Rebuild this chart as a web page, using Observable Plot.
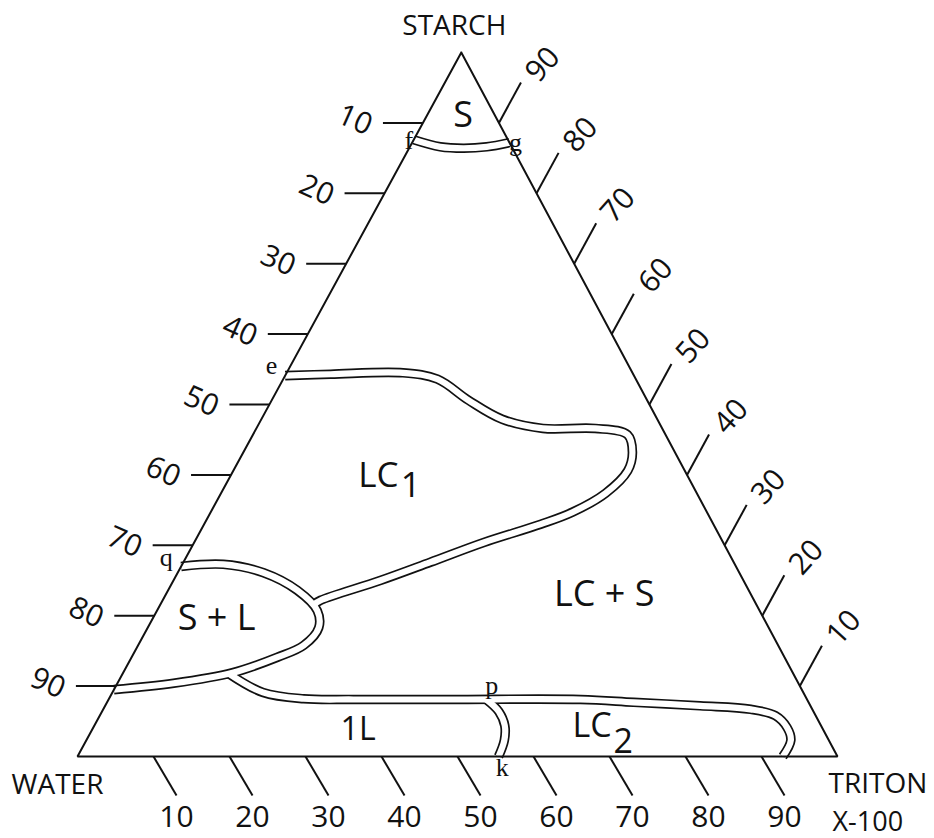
<!DOCTYPE html>
<html>
<head>
<meta charset="utf-8">
<script src="https://cdn.jsdelivr.net/npm/d3@7"></script>
<script src="https://cdn.jsdelivr.net/npm/@observablehq/plot@0.6"></script>
<style>
  html, body { margin: 0; padding: 0; background: #fff; }
</style>
</head>
<body>
<div id="chart"></div>
<script>
// ---- Ternary phase diagram: Starch / Water / Triton X-100 ----
// Every boundary point is [Triton X-100 %, Starch %]; Water = 100 - Triton - Starch.
const boundaryFG  = [[0, 87.6], [4.0, 86.6], [7.2, 86.4], [10.1, 86.6], [12.8, 87.2]];
const boundaryLC1 = [[0, 54.1], [5.9, 54.3], [15.3, 54.5], [20.3, 53.6], [25.9, 50.6], [31.7, 47.9],
                     [37.7, 46.6], [44.6, 46.6], [49.3, 45.7], [51.2, 43.2], [51.9, 40.6], [50.6, 37.4],
                     [47.6, 34.7], [44.3, 33.0], [38.1, 30.4], [32.5, 27.6], [27.2, 25.0], [20.8, 22.2], [20.2, 21.6]];
const boundarySL  = [[0, 27.0], [5.4, 27.3], [11.3, 26.1], [17.0, 23.6], [21.1, 20.7], [22.5, 18.3],
                     [21.8, 15.8], [19.2, 14.1], [14.4, 11.9], [7.4, 10.4], [0, 9.5]];
const boundaryLC2 = [[13.9, 11.8], [19.8, 9.1], [25.6, 8.2], [32.2, 8.1], [45.0, 8.1], [62.1, 8.1],
                     [69.3, 7.7], [78.3, 7.2], [85.2, 6.7], [88.9, 5.8], [91.3, 4.1], [92.7, 2.3], [92.8, 0]];
const boundaryPK  = [[49.7, 8.1], [52.2, 6.4], [54.0, 4.4], [55.0, 2.3], [55.4, 0]];

const tickValues = [10, 20, 30, 40, 50, 60, 70, 80, 90];

// Region names: [text, Triton %, Starch %, font size, anchor]
const regionLabels = [
  ["S", 4.8, 91.0, 36, "middle"],
  ["LC", 22.1, 39.9, 35, "end"],
  ["1", 23.1, 38.5, 35, "start"],
  ["LC + S", 57.7, 23.0, 36, "middle"],
  ["S + L", 8.4, 19.6, 36, "middle"],
  ["1L", 35.0, 3.8, 32, "middle"],
  ["LC", 68.1, 4.3, 34, "end"],
  ["2", 69.5, 2.0, 34, "start"]
];
// Point letters: [text, Triton %, Starch %]
const pointLabels = [
  ["f", -0.6, 87.5], ["g", 13.6, 87.2], ["e", -2.5, 55.5],
  ["q", -2.6, 28.3], ["p", 49.4, 10.1], ["k", 56.7, -1.6]
];
// Corner names: [text, Triton %, Starch %]
const cornerLabels = [["STARCH", 0, 100], ["WATER", 0, 0], ["TRITON", 100, 0], ["X-100", 100, 0]];

// ---- projection (triangle drawn as in the source: apex slightly right of centre) ----
const K = 0.505;
const proj = (t, s) => ({x: t / 100 + K * s / 100, y: s / 100});

const boundaries = [];
[["fg", boundaryFG], ["lc1", boundaryLC1], ["sl", boundarySL], ["lc2", boundaryLC2], ["pk", boundaryPK]]
  .forEach(([name, pts]) => pts.forEach(([t, s]) => boundaries.push({curve: name, ...proj(t, s)})));

const outline = [[0, 100], [0, 0], [100, 0], [0, 100]].map(([t, s]) => proj(t, s));

// tick segments (left: water scale, right: starch scale, bottom: triton scale)
const leftTicks = tickValues.map(v => {
  const p = proj(0, 100 - v);
  return {v, x1: p.x, y1: p.y, x2: p.x - 0.0526, y2: p.y};
});
const rightTicks = tickValues.map(v => {
  const p = proj(100 - v, v);
  return {v, x1: p.x, y1: p.y, x2: p.x + 0.0290, y2: p.y + 0.0574};
});
const bottomTicks = tickValues.map(v => {
  const p = proj(v, 0);
  return {v, x1: p.x, y1: p.y, x2: p.x + 0.0303, y2: p.y - 0.0554};
});

const regions = regionLabels.map(([text, t, s, size, anchor]) => ({text, size, anchor, ...proj(t, s)}));
const points = pointLabels.map(([text, t, s]) => ({text, ...proj(t, s)}));
const corners = cornerLabels.map(([text, t, s]) => ({text, ...proj(t, s)}));

const sans = "'Open Sans', Lato, 'DejaVu Sans', sans-serif";
const serif = "'Liberation Serif', 'DejaVu Serif', serif";
const ink = "#111";

const regionMarks = ["middle", "start", "end"].map(a =>
  Plot.text(regions.filter(d => d.anchor === a), {x: "x", y: "y", text: "text", textAnchor: a, fontSize: d => d.size, fill: ink})
);

const chart = Plot.plot({
  width: 934,
  height: 838,
  margin: 0,
  x: {domain: [0, 1], range: [77, 837], axis: null},
  y: {domain: [0, 1], range: [756, 52], axis: null},
  style: {background: "#fff", fontFamily: sans, color: ink},
  marks: [
    // double-line phase boundaries: a wide dark stroke, then a narrower white stroke
    Plot.line(boundaries, {x: "x", y: "y", z: "curve", curve: "catmull-rom", stroke: ink, strokeWidth: 9.6, strokeLinecap: "butt"}),
    Plot.line(boundaries, {x: "x", y: "y", z: "curve", curve: "catmull-rom", stroke: "#fff", strokeWidth: 6.2, strokeLinecap: "butt"}),
    // triangle
    Plot.line(outline, {x: "x", y: "y", stroke: ink, strokeWidth: 2, strokeLinejoin: "miter"}),
    // ticks
    Plot.link(leftTicks, {x1: "x1", y1: "y1", x2: "x2", y2: "y2", stroke: ink, strokeWidth: 2}),
    Plot.link(rightTicks, {x1: "x1", y1: "y1", x2: "x2", y2: "y2", stroke: ink, strokeWidth: 2}),
    Plot.link(bottomTicks, {x1: "x1", y1: "y1", x2: "x2", y2: "y2", stroke: ink, strokeWidth: 2}),
    // tick labels
    Plot.text(leftTicks, {x: "x2", y: "y2", text: d => String(d.v), dx: -28, dy: -3, rotate: 24, fontSize: 30, fill: ink}),
    Plot.text(rightTicks, {x: "x2", y: "y2", text: d => String(d.v), dx: 22, dy: -18, rotate: -48, fontSize: 30, fill: ink}),
    Plot.text(bottomTicks, {x: "x2", y: "y2", text: d => String(d.v), dy: 22, fontSize: 30, fill: ink}),
    // corner names
    Plot.text(corners.filter(d => d.text === "STARCH"), {x: "x", y: "y", text: "text", dx: -7, dy: -26, fontSize: 28, fill: ink}),
    Plot.text(corners.filter(d => d.text === "WATER"), {x: "x", y: "y", text: "text", dx: -20, dy: 29, fontSize: 28, fill: ink}),
    Plot.text(corners.filter(d => d.text === "TRITON"), {x: "x", y: "y", text: "text", dx: -9, dy: 28, textAnchor: "start", fontSize: 28, fill: ink}),
    Plot.text(corners.filter(d => d.text === "X-100"), {x: "x", y: "y", text: "text", dx: -5, dy: 66, textAnchor: "start", fontSize: 27, fill: ink}),
    // region names
    ...regionMarks,
    // point letters
    Plot.text(points, {x: "x", y: "y", text: "text", fontSize: 26, fontFamily: serif, fill: ink})
  ]
});

document.getElementById("chart").appendChild(chart);
</script>
</body>
</html>
